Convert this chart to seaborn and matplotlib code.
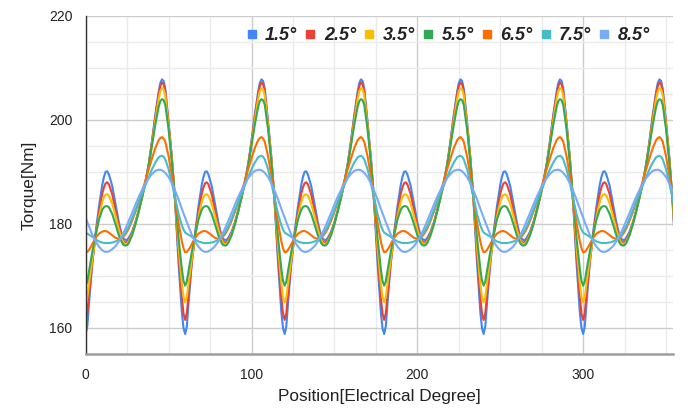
import numpy as np
import pandas as pd
import matplotlib
matplotlib.use("Agg")
import matplotlib.pyplot as plt
import seaborn as sns
from matplotlib.ticker import MultipleLocator, FixedLocator
from matplotlib.lines import Line2D

# ---- data (one electrical period of 60 deg; waveform repeats) ----
period_x = [0, 1, 2, 3, 4, 6, 8, 10, 11, 12, 13, 14, 16, 18, 20, 22, 23, 24, 25, 26, 28,
            30, 32, 34, 36, 38, 40, 42, 44, 45, 46, 47, 48, 50, 52, 54, 56, 58, 59]
n_periods = 6
x_max = 354

series_names = ["1.5°", "2.5°", "3.5°", "5.5°", "6.5°", "7.5°", "8.5°"]
series_colors = ["#4285F4", "#EA4335", "#FBBC04", "#34A853", "#FF6D01", "#46BDC6", "#7BAAF7"]

torque_1_5 = [158.8, 160.3, 164.6, 168.6, 172.5, 178.3, 183.3, 187.5, 189.0, 190.0, 190.1, 189.5,
              187.3, 183.8, 180.3, 177.6, 177.1, 176.9, 176.9, 177.3, 178.5,
              180.3, 182.6, 185.2, 188.0, 191.5, 196.0, 201.0, 205.4, 207.1, 207.8, 207.5, 206.0,
              199.5, 192.7, 183.8, 172.5, 163.0, 159.9]
torque_2_5 = [161.5, 162.8, 166.3, 169.4, 172.6, 177.8, 182.2, 185.8, 187.0, 187.8, 188.0, 187.6,
              185.7, 182.6, 179.5, 177.2, 176.6, 176.4, 176.5, 176.9, 178.2,
              180.1, 182.5, 185.1, 187.9, 191.3, 195.7, 200.6, 204.9, 206.5, 207.2, 206.9, 205.5,
              199.2, 192.5, 184.0, 174.0, 165.8, 162.7]
torque_3_5 = [164.9, 165.9, 168.5, 170.8, 173.2, 177.5, 181.3, 184.2, 185.1, 185.6, 185.7, 185.4,
              183.9, 181.5, 178.9, 176.9, 176.3, 176.1, 176.2, 176.6, 178.0,
              180.0, 182.4, 185.0, 187.9, 191.2, 195.3, 199.9, 204.0, 205.5, 206.1, 205.9, 204.7,
              198.8, 192.2, 184.2, 175.6, 168.5, 165.9]
torque_5_5 = [168.1, 168.9, 170.9, 172.7, 174.6, 177.9, 180.8, 182.7, 183.2, 183.4, 183.4, 183.2,
              181.9, 179.9, 177.8, 176.3, 175.9, 175.8, 175.9, 176.3, 177.8,
              179.9, 182.4, 185.1, 188.0, 191.3, 195.1, 199.1, 202.5, 203.6, 204.0, 203.8, 202.9,
              198.2, 191.8, 184.6, 177.3, 171.3, 169.0]
torque_6_5 = [174.5, 174.6, 175.0, 175.5, 176.1, 177.3, 178.1, 178.5, 178.6, 178.6, 178.5, 178.3,
              177.8, 177.3, 177.1, 177.3, 177.6, 178.0, 178.5, 179.1, 180.6,
              182.3, 184.2, 186.2, 188.3, 190.5, 192.6, 194.6, 196.1, 196.5, 196.7, 196.4, 195.8,
              193.0, 189.2, 184.8, 180.2, 176.6, 175.3]
torque_7_5 = [178.3, 178.1, 177.9, 177.7, 177.5, 177.0, 176.6, 176.4, 176.3, 176.3, 176.3, 176.3,
              176.4, 176.6, 176.9, 177.4, 177.8, 178.3, 178.9, 179.5, 181.0,
              182.6, 184.2, 185.8, 187.4, 189.0, 190.5, 191.8, 192.8, 193.0, 193.1, 192.9, 192.4,
              190.5, 187.8, 184.8, 181.9, 179.7, 178.9]
torque_8_5 = [181.2, 180.3, 179.5, 178.7, 177.9, 176.6, 175.6, 174.9, 174.7, 174.6, 174.6, 174.7,
              175.1, 175.7, 176.6, 177.8, 178.4, 179.1, 179.8, 180.6, 182.1,
              183.7, 185.2, 186.5, 187.8, 188.8, 189.6, 190.2, 190.4, 190.4, 190.3, 190.1, 189.8,
              189.0, 187.8, 186.3, 184.7, 182.9, 182.0]

all_series = [torque_1_5, torque_2_5, torque_3_5, torque_5_5, torque_6_5, torque_7_5, torque_8_5]

rows = []
for name, vals in zip(series_names, all_series):
    for k in range(n_periods):
        for px, v in zip(period_x, vals):
            rows.append({"Position": px + 60 * k, "Torque": v, "series": name})
df = pd.DataFrame(rows)

# ---- figure ----
sns.set_theme(style="white")
plt.rcParams["font.family"] = ["Liberation Sans", "DejaVu Sans"]
plt.rcParams["lines.solid_joinstyle"] = "round"

fig = plt.figure(figsize=(6.91, 4.09), dpi=100)
ax = fig.add_axes([0.124, 0.1352, 0.8495, 0.8257])

sns.lineplot(data=df, x="Position", y="Torque", hue="series",
             palette=dict(zip(series_names, series_colors)), hue_order=series_names,
             linewidth=1.5, legend=False, ax=ax, estimator=None, sort=True)

ax.set_xlim(0, x_max)
ax.set_ylim(155, 220)

ax.xaxis.set_major_locator(FixedLocator([0, 100, 200, 300]))
ax.xaxis.set_minor_locator(MultipleLocator(25))
ax.yaxis.set_major_locator(FixedLocator([160, 180, 200, 220]))
ax.yaxis.set_minor_locator(MultipleLocator(5))

ax.set_axisbelow(True)
ax.grid(which="major", color="#cccccc", linewidth=1.0)
ax.grid(which="minor", color="#ebebeb", linewidth=1.0)

for s in ["top", "right"]:
    ax.spines[s].set_visible(False)
ax.spines["left"].set_color("#333333")
ax.spines["left"].set_linewidth(1.0)
ax.spines["bottom"].set_color("#9e9e9e")
ax.spines["bottom"].set_linewidth(1.8)

ax.tick_params(which="minor", length=0)
ax.tick_params(axis="y", which="major", direction="out", length=3.5, width=1,
               color="#333333", labelsize=10, labelcolor="#222222", pad=6)
ax.tick_params(axis="x", which="major", direction="inout", length=7, width=1,
               color="#333333", labelsize=10, labelcolor="#222222", pad=7)

ax.set_xlabel("Position[Electrical Degree]", fontsize=12.4, color="#222222", labelpad=5)
ax.set_ylabel("Torque[Nm]", fontsize=12.4, color="#222222", labelpad=9)

handles = [Line2D([0], [0], marker="s", linestyle="none", markersize=6,
                  markerfacecolor=c, markeredgecolor=c) for c in series_colors]
leg = ax.legend(handles, series_names, loc="center", bbox_to_anchor=(0.616, 0.941),
                ncol=7, frameon=False, handlelength=0.8, handletextpad=0.35,
                columnspacing=0.32, borderaxespad=0,
                prop={"weight": "bold", "style": "italic", "size": 13})
for t in leg.get_texts():
    t.set_color("#222222")

fig.savefig("out.png", dpi=100)
